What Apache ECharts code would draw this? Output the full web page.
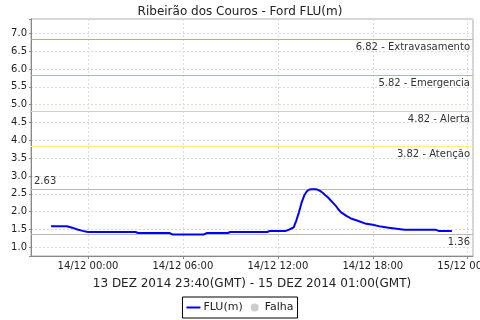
<!DOCTYPE html>
<html><head><meta charset="utf-8">
<script src="https://cdn.jsdelivr.net/npm/echarts@6/dist/echarts.min.js"></script>
<style>html,body{margin:0;padding:0;background:#fff}#c{width:480px;height:320px}</style>
</head><body><div id="c"></div>
<script>
// Data (local displayed time, value in m)
const times = [
 '2014-12-13 21:40','2014-12-13 22:40','2014-12-13 23:00','2014-12-13 23:20','2014-12-13 23:40',
 '2014-12-14 00:00','2014-12-14 03:00','2014-12-14 03:10','2014-12-14 05:10','2014-12-14 05:20',
 '2014-12-14 07:20','2014-12-14 07:30','2014-12-14 08:50','2014-12-14 09:00','2014-12-14 11:20',
 '2014-12-14 11:30','2014-12-14 12:30','2014-12-14 12:40','2014-12-14 12:50','2014-12-14 13:00',
 '2014-12-14 13:10','2014-12-14 13:20','2014-12-14 13:30','2014-12-14 13:40','2014-12-14 13:50',
 '2014-12-14 14:00','2014-12-14 14:10','2014-12-14 14:20','2014-12-14 14:30','2014-12-14 14:40',
 '2014-12-14 14:50','2014-12-14 15:00','2014-12-14 15:10','2014-12-14 15:20','2014-12-14 15:30',
 '2014-12-14 15:40','2014-12-14 15:50','2014-12-14 16:00','2014-12-14 16:20','2014-12-14 16:40',
 '2014-12-14 17:00','2014-12-14 17:30','2014-12-14 18:00','2014-12-14 18:30','2014-12-14 19:00',
 '2014-12-14 19:30','2014-12-14 20:00','2014-12-14 22:00','2014-12-14 22:10','2014-12-14 23:00'
];
const fluValues = [
 1.59,1.59,1.55,1.50,1.46,
 1.43,1.43,1.40,1.40,1.36,
 1.36,1.40,1.40,1.43,1.43,
 1.46,1.46,1.49,1.52,1.56,
 1.75,1.98,2.25,2.45,2.57,
 2.62,2.63,2.63,2.62,2.58,
 2.53,2.46,2.40,2.32,2.24,
 2.16,2.06,1.98,1.88,1.80,
 1.75,1.67,1.63,1.58,1.55,
 1.52,1.49,1.49,1.46,1.46
];
const markerValues = [6.82, 5.82, 4.82, 3.82];
const markerNames = ['Extravasamento', 'Emergencia', 'Alerta', 'Atenção'];
const markerColors = ['#ee9090', '#f08cf0', '#ffc880', '#ffee80'];
const maxValue = 2.63;
const minValue = 1.36;
const axisMin = '2014-12-13 20:24';
const axisMax = '2014-12-15 00:20';
const yMin = 0.756, yMax = 7.40;

const toTs = s => { const p = s.split(/[- :]/).map(Number); return new Date(p[0], p[1] - 1, p[2], p[3], p[4]).getTime(); };
const pad = n => (n < 10 ? '0' : '') + n;
const chart = echarts.init(document.getElementById('c'), null, {renderer: 'canvas'});
const labelFont = {fontFamily: 'DejaVu Sans', fontSize: 10, color: '#333', distance: [3, 3]};

function refSeries(val, color, text, pos) {
  return {
    name: 'ref' + val, type: 'line', data: [], symbol: 'none', silent: true,
    markLine: {
      silent: true, symbol: 'none', animation: false,
      lineStyle: {color: color, width: 1, type: 'solid', opacity: 1},
      label: Object.assign({formatter: text, position: pos}, labelFont),
      emphasis: {disabled: true},
      data: [{yAxis: val}]
    }
  };
}
const refs = markerValues.map((v, i) => refSeries(v, markerColors[i], v.toFixed(2) + ' - ' + markerNames[i], 'insideEndBottom'));
refs.push(refSeries(maxValue, '#b8b8b8', maxValue.toFixed(2), 'insideStartTop'));
refs.push(refSeries(minValue, '#b8b8b8', minValue.toFixed(2), 'insideEndBottom'));

const xMinTs = toTs(axisMin), xMaxTs = toTs(axisMax);

chart.setOption({
  animation: false,
  backgroundColor: '#fff',
  title: {
    text: 'Ribeirão dos Couros - Ford FLU(m)', left: 'center', top: 1,
    textStyle: {fontFamily: 'DejaVu Sans', fontSize: 12, fontWeight: 'normal', color: '#222'}
  },
  legend: {
    bottom: 2, left: 'center', padding: [5, 4], itemGap: 8,
    itemWidth: 14, itemHeight: 8,
    borderColor: '#000', borderWidth: 1,
    textStyle: {fontFamily: 'DejaVu Sans', fontSize: 11, color: '#222', padding: [0, 0, 0, -2]},
    data: [
      {name: 'FLU(m)', icon: 'path://M0,0 L14,0 L14,2 L0,2 Z', itemStyle: {color: '#0000ff'}},
      {name: 'Falha', icon: 'circle'}
    ]
  },
  grid: {left: 31, right: 7, top: 19, bottom: 64, show: true, borderColor: '#a8a8a8', borderWidth: 1,
    containLabel: false, outerBoundsMode: 'none'},
  xAxis: {
    type: 'time', min: xMinTs, max: xMaxTs, splitNumber: 4,
    name: '13 DEZ 2014 23:40(GMT) - 15 DEZ 2014 01:00(GMT)',
    nameLocation: 'middle', nameGap: 22,
    nameTextStyle: {fontFamily: 'DejaVu Sans', fontSize: 12, color: '#222'},
    axisLine: {lineStyle: {color: '#888'}},
    axisTick: {show: true, length: 3, lineStyle: {color: '#888'}},
    axisLabel: {
      fontFamily: 'DejaVu Sans', fontSize: 10, color: '#222', margin: 5,
      formatter: v => { const d = new Date(v); return pad(d.getDate()) + '/' + pad(d.getMonth() + 1) + ' ' + pad(d.getHours()) + ':' + pad(d.getMinutes()); }
    },
    splitLine: {show: true, lineStyle: {color: '#dcdcdc', type: [2, 2]}}
  },
  yAxis: {
    type: 'value', min: yMin, max: yMax, splitNumber: 13, minInterval: 0.5, maxInterval: 0.5,
    axisLine: {show: true, lineStyle: {color: '#888'}},
    axisTick: {show: true, length: 2, lineStyle: {color: '#888'}},
    axisLabel: {
      fontFamily: 'DejaVu Sans', fontSize: 10, color: '#222', margin: 4,
      formatter: v => (Math.abs(v * 2 - Math.round(v * 2)) < 1e-6 && v >= 0.99 && v <= 7.01) ? v.toFixed(1) : ''
    },
    splitLine: {show: true, lineStyle: {color: '#dcdcdc', type: [2, 2]}}
  },
  series: [
    {
      name: 'FLU(m)', type: 'line', symbol: 'none', color: '#0000ff', z: 5,
      lineStyle: {color: '#0000ff', width: 2},
      data: times.map((t, i) => [toTs(t), fluValues[i]])
    },
    {name: 'Falha', type: 'scatter', color: '#c0c0c0', symbol: 'circle', data: []}
  ].concat(refs)
});
</script></body></html>
